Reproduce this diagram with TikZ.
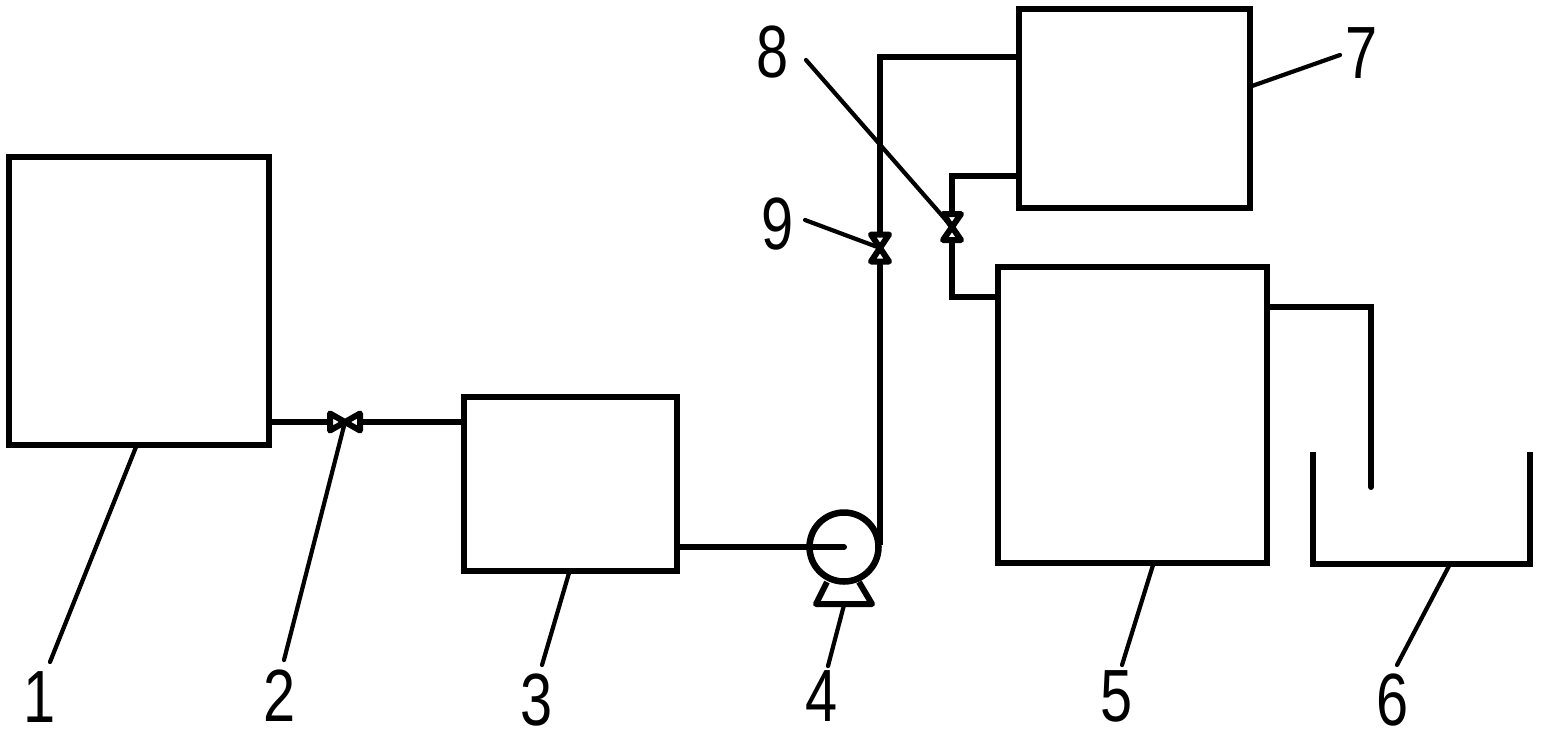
\documentclass[tikz,border=0pt]{standalone}
\usepackage{fontspec}
\setmainfont{Liberation Sans}
\tikzset{
  tank/.style={draw,line width=6pt,outer sep=0pt,inner sep=0pt,anchor=north west,line join=miter},
  pipe/.style={line width=6pt,line join=miter},
  leader/.style={line width=4.2pt,line cap=round},
  digit/.style={inner sep=0pt,font=\fontsize{74}{74}\selectfont,xscale=.78},
  valvebody/.style={line width=6pt,line join=round,fill=white},
}
\newcommand{\vvalve}[3]{% name, half width, half height
  \draw[valvebody] ($(#1)+(-#2,-#3)$) -- ($(#1)+(#2,-#3)$) -- ($(#1)+(-#2,#3)$) -- ($(#1)+(#2,#3)$) -- cycle;}
\newcommand{\hvalve}[3]{%
  \draw[valvebody] ($(#1)+(-#2,-#3)$) -- ($(#1)+(-#2,#3)$) -- ($(#1)+(#2,-#3)$) -- ($(#1)+(#2,#3)$) -- cycle;}
\usetikzlibrary{calc}
\begin{document}
\begin{tikzpicture}[x=1pt,y=-1pt]
\useasboundingbox (0,0) rectangle (1544,742);
% tanks
\node[tank,minimum width=260pt,minimum height=288pt] (t1) at (9,157) {};
\node[tank,minimum width=213pt,minimum height=174pt] (t3) at (464,397) {};
\node[tank,minimum width=269pt,minimum height=296pt] (t5) at (998,267) {};
\node[tank,minimum width=231pt,minimum height=199pt] (t7) at (1019,9) {};
% basin
\coordinate (b1) at (1313,452);
\coordinate (b2) at (1313,564);
\coordinate (b3) at (1530,564);
\coordinate (b4) at (1530,452);
\draw[pipe] (b1) -- (b2) -- (b3) -- (b4);
% points
\coordinate (v2) at (345,422);
\coordinate (v9) at (880,248);
\coordinate (v8) at (952,227);
\coordinate (pc) at (844,547);
\coordinate (outlet) at (1371,487);
% pipes
\draw[pipe] (t1.east |- v2) -- (v2) -- (t3.west |- v2);
\draw[pipe,line cap=round] (t3.east |- pc) -- (pc);
\draw[pipe] (880,545) coordinate (pt) -- (v9) -- (880,57) coordinate (top) -- (t7.west |- top);
\draw[pipe] (t7.west |- 0,176) -- (952,176) -- (v8) -- (952,297) coordinate (low) -- (t5.west |- low);
\draw[pipe,line cap=round] (t5.east |- 0,307) -- (outlet |- 0,307) -- (outlet);
% pump
\node[draw,circle,line width=6.5pt,minimum size=69pt,inner sep=0pt,outer sep=0pt] (pump) at (pc) {};
\draw[line width=6pt,line join=round] (827,582) -- (816,604) -- (872,604) -- (859,582);
% valves
\vvalve{v9}{9}{13.5}
\vvalve{v8}{9}{13}
\hvalve{v2}{15}{8.5}
% labels
\node[digit] (n1) at (40,697) {1};
\node[digit] (n2) at (280,696) {2};
\node[digit] (n3) at (537,700) {3};
\node[digit] (n4) at (822,696) {4};
\node[digit] (n5) at (1117,696) {5};
\node[digit] (n6) at (1393,700) {6};
\node[digit] (n7) at (1362,53) {7};
\node[digit] (n8) at (773,52) {8};
\node[digit] (n9) at (778,224) {9};
% leaders
\draw[leader] (136,447) -- (50,662);
\draw[leader] (v2) -- (284,660);
\draw[leader] (569,573) -- (542,665);
\draw[leader] (844,605) -- (828,666);
\draw[leader] (1153,565) -- (1122,665);
\draw[leader] (1449,566) -- (1397,665);
\draw[leader] (1252,86) -- (1340,55);
\draw[leader] (806,60) -- (v8);
\draw[leader] (805,220) -- (v9);
\end{tikzpicture}
\end{document}
